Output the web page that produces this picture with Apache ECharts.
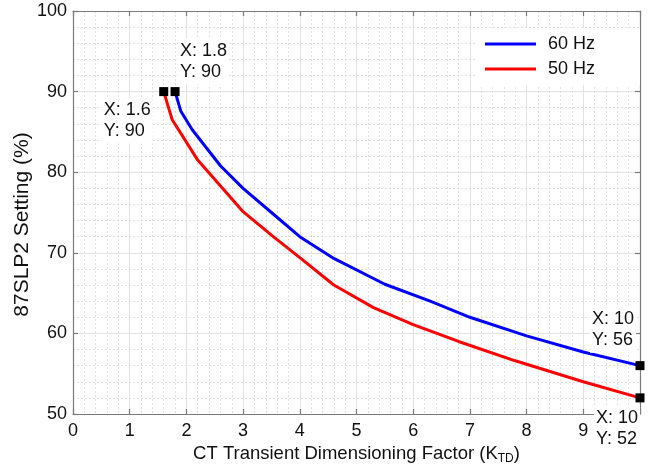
<!DOCTYPE html>
<html>
<head>
<meta charset="utf-8">
<script src="https://cdn.jsdelivr.net/npm/echarts@6/dist/echarts.min.js"></script>
<style>html,body{margin:0;padding:0;background:#fff}#c{width:654px;height:465px}</style>
</head>
<body>
<div id="c"></div>
<script>
// ---- data ----
var seriesNames = ['60 Hz', '50 Hz'];
var hz60X = [1.8, 1.9, 2.1, 2.6, 3.0, 3.5, 4.0, 4.6, 5.5, 6.3, 7.0, 8.0, 9.0, 10];
var hz60Y = [90, 87.6, 85.3, 80.8, 78.0, 75.0, 72.0, 69.3, 66.1, 64.0, 62.0, 59.7, 57.7, 56];
var hz50X = [1.6, 1.75, 2.2, 3.0, 3.5, 4.0, 4.6, 5.3, 6.0, 6.8, 7.8, 9.0, 10];
var hz50Y = [90, 86.5, 81.5, 75.1, 72.2, 69.4, 66.0, 63.2, 61.1, 59.0, 56.6, 54.0, 52];
var markerX = [1.8, 1.6, 10, 10];
var markerY = [90, 90, 56, 52];
var xTicks = [0, 1, 2, 3, 4, 5, 6, 7, 8, 9];
var yTicks = [50, 60, 70, 80, 90, 100];
var xTitle = 'CT Transient Dimensioning Factor (K{sub|TD})';
var yTitle = '87SLP2 Setting (%)';

// ---- build ----
function pairs(xs, ys) { return xs.map(function (x, i) { return [x, ys[i]]; }); }
var labelOffsets = [[3, -30], [-62, 29], [-50, -36], [-46, 31]];
var FONT = 'Liberation Sans, Arial, sans-serif';
var markerData = markerX.map(function (x, i) {
  return {
    value: [x, markerY[i]],
    label: { offset: labelOffsets[i] }
  };
});

var chart = echarts.init(document.getElementById('c'));
var axisLineStyle = { color: '#7b7b7b', width: 1.2 };
var option = {
  animation: false,
  backgroundColor: '#fff',
  textStyle: { fontFamily: FONT },
  grid: { left: 73, right: 14, top: 11, bottom: 51, containLabel: false, outerBoundsMode: 'none' },
  graphic: [{
    type: 'text', x: 22.5, y: 224.5, rotation: Math.PI / 2,
    style: { text: yTitle, fontFamily: FONT, fontSize: 21, fill: '#111', align: 'center', verticalAlign: 'middle' }
  }],
  legend: {
    data: seriesNames,
    orient: 'vertical',
    right: 14,
    top: 28,
    backgroundColor: '#fff',
    padding: [6, 45, 6, 8],
    icon: 'rect',
    itemWidth: 51,
    itemHeight: 3,
    itemGap: 5,
    textStyle: { fontFamily: FONT, fontSize: 18, color: '#111', lineHeight: 20, padding: [0, 0, 0, 7] }
  },
  xAxis: [{
    type: 'value', min: 0, max: 10, interval: 1,
    name: xTitle,
    nameLocation: 'middle', nameGap: 21,
    nameTextStyle: {
      fontFamily: FONT, fontSize: 18.5, color: '#111', verticalAlign: 'top',
      rich: { sub: { fontFamily: FONT, fontSize: 12, color: '#111', padding: [9, 0, 0, 0] } }
    },
    axisLine: { show: true, onZero: false, lineStyle: axisLineStyle },
    axisTick: { show: true, inside: true, length: 5, lineStyle: axisLineStyle },
    axisLabel: {
      fontFamily: FONT, fontSize: 18, color: '#111', margin: 8,
      formatter: function (v) { return xTicks.indexOf(v) >= 0 ? String(v) : ''; }
    },
    splitLine: { show: true, lineStyle: { color: '#e2e2e2', width: 1 } },
    minorTick: { show: true, splitNumber: 5, length: 0 },
    minorSplitLine: { show: true, lineStyle: { color: '#e0e0e0', type: [2, 2], width: 1 } }
  }, {
    type: 'value', min: 0, max: 10, interval: 1, position: 'top',
    axisLine: { show: true, onZero: false, lineStyle: axisLineStyle },
    axisTick: { show: true, inside: true, length: 5, lineStyle: axisLineStyle },
    axisLabel: { show: false }, splitLine: { show: false }
  }],
  yAxis: [{
    type: 'value', min: 50, max: 100, interval: 10,
    axisLine: { show: true, onZero: false, lineStyle: axisLineStyle },
    axisTick: { show: true, inside: true, length: 5, lineStyle: axisLineStyle },
    axisLabel: {
      fontFamily: FONT, fontSize: 18, color: '#111', margin: 6,
      formatter: function (v) { return yTicks.indexOf(v) >= 0 ? String(v) : ''; }
    },
    splitLine: { show: true, lineStyle: { color: '#e2e2e2', width: 1 } },
    minorTick: { show: true, splitNumber: 5, length: 0 },
    minorSplitLine: { show: true, lineStyle: { color: '#e0e0e0', type: [2, 2], width: 1 } }
  }, {
    type: 'value', min: 50, max: 100, interval: 10, position: 'right',
    axisLine: { show: true, onZero: false, lineStyle: axisLineStyle },
    axisTick: { show: true, inside: true, length: 5, lineStyle: axisLineStyle },
    axisLabel: { show: false }, splitLine: { show: false }
  }],
  series: [{
    name: seriesNames[0], type: 'line', symbol: 'none', z: 3,
    data: pairs(hz60X, hz60Y),
    lineStyle: { color: '#0000ff', width: 3 }, itemStyle: { color: '#0000ff' }
  }, {
    name: seriesNames[1], type: 'line', symbol: 'none', z: 3,
    data: pairs(hz50X, hz50Y),
    lineStyle: { color: '#ff0000', width: 3 }, itemStyle: { color: '#ff0000' }
  }, {
    name: 'markers', type: 'scatter', symbol: 'rect', symbolSize: 9, z: 5, clip: false,
    itemStyle: { color: '#000', opacity: 1 },
    data: markerData,
    label: {
      show: true, position: 'inside', align: 'left', verticalAlign: 'middle',
      fontFamily: FONT, fontSize: 18, lineHeight: 21, color: '#111', opacity: 1,
      backgroundColor: '#fff', padding: [2, 2, 2, 2],
      formatter: function (p) { return 'X: ' + p.value[0] + '\nY: ' + p.value[1]; }
    }
  }]
};
chart.setOption(option);
</script>
</body>
</html>
